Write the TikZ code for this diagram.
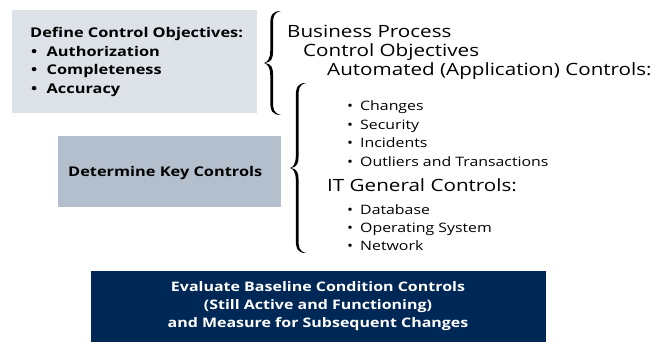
\documentclass[tikz,border=0pt]{standalone}
\usepackage{fontspec}
\setmainfont[FakeStretch=1.22]{Open Sans}
\definecolor{boxA}{HTML}{DDE1E8}
\definecolor{boxB}{HTML}{B4BFCD}
\definecolor{boxC}{HTML}{002856}
\newcommand\drawbrace[4]{%
 \pgfmathsetmacro\bxa{#1}\pgfmathsetmacro\bxb{#2}%
 \pgfmathsetmacro\bya{#3}\pgfmathsetmacro\byb{#4}%
 \pgfmathsetmacro\bym{(#3+#4)/2}%
 \pgfmathsetmacro\bso{#1+0.45*(#2-#1)-1.4}%
 \pgfmathsetmacro\bsi{#1+0.45*(#2-#1)+1.4}%
 \fill (\bxb,\bya) .. controls (\bso+2,\bya) and (\bso,\bya+4) .. (\bso,\bya+14)
   -- (\bso,\bym-12) .. controls (\bso,\bym-4) and (\bxa+3,\bym-0.6) .. (\bxa,\bym)
   .. controls (\bxa+3,\bym+0.6) and (\bso,\bym+4) .. (\bso,\bym+12)
   -- (\bso,\byb-14) .. controls (\bso,\byb-4) and (\bso+2,\byb) .. (\bxb,\byb)
   .. controls (\bsi,\byb-2) and (\bsi,\byb-6) .. (\bsi,\byb-14)
   -- (\bsi,\bym+12) .. controls (\bsi,\bym+5) and (\bsi-1.5,\bym+1) .. (\bxa+1.2,\bym)
   .. controls (\bsi-1.5,\bym-1) and (\bsi,\bym-5) .. (\bsi,\bym-12)
   -- (\bsi,\bya+14) .. controls (\bsi,\bya+6) and (\bsi,\bya+2) .. (\bxb,\bya) -- cycle;}
\newcommand\bl[1]{\makebox[#1][l]{•}}
\begin{document}
\begin{tikzpicture}[x=1pt,y=-1pt,
  lbl/.style={anchor=base west,inner sep=0pt,font=\fontsize{16.9}{20}\selectfont},
  itm/.style={anchor=base west,inner sep=0pt,font=\fontsize{13}{15}\selectfont},
  boxlbl/.style={anchor=base west,inner sep=0pt,font=\bfseries\fontsize{13.4}{15}\selectfont}]
\useasboundingbox (0,0) rectangle (661,344);
\fill[boxA] (12,10) rectangle (257,113);
\fill[boxB] (58,136) rectangle (281,207);
\fill[boxC] (91,271) rectangle (546,342);
\node[boxlbl] (d1) at (30,38) {Define Control Objectives:};
\node[boxlbl] (d2) at (31,56.5) {\bl{15.5pt}Authorization};
\node[boxlbl] (d3) at (31,75) {\bl{15.5pt}Completeness};
\node[boxlbl] (d4) at (31,93.5) {\bl{15.5pt}Accuracy};
\node[boxlbl] (k) at (68,177) {Determine Key Controls};
\node[align=center,text=white,font=\bfseries\fontsize{13.1}{18}\selectfont] (e) at (318,306)
  {Evaluate Baseline Condition Controls\\(Still Active and Functioning)\\and Measure for Subsequent Changes};
\drawbrace{264}{281}{11}{115}
\drawbrace{290}{306}{83}{253}
\node[lbl] (bp) at (287,38) {Business Process};
\node[lbl] (co) at (303,57) {Control Objectives};
\node[lbl] (ac) at (327,76) {Automated (Application) Controls:};
\node[itm] (i1) at (347,111) {\bl{13pt}Changes};
\node[itm] (i2) at (347,129.5) {\bl{13pt}Security};
\node[itm] (i3) at (347,148) {\bl{13pt}Incidents};
\node[itm] (i4) at (347,166.5) {\bl{13pt}Outliers and Transactions};
\node[lbl] (it) at (327,192) {IT General Controls:};
\node[itm] (j1) at (347,215) {\bl{13pt}Database};
\node[itm] (j2) at (347,233) {\bl{13pt}Operating System};
\node[itm] (j3) at (347,251) {\bl{13pt}Network};
\end{tikzpicture}
\end{document}
